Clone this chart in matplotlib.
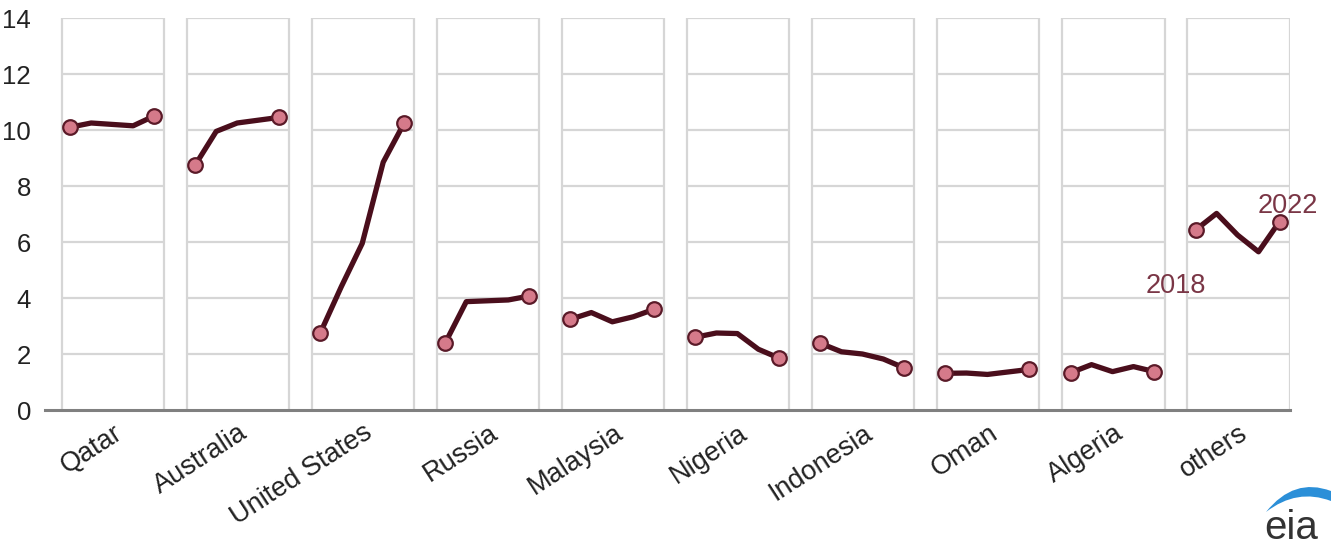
import matplotlib

matplotlib.use("Agg")
import matplotlib.pyplot as plt
from matplotlib.path import Path
from matplotlib.patches import PathPatch

plt.rcParams["font.family"] = ["Liberation Sans", "DejaVu Sans"]

# LNG exports by country, 2018-2022 (billion cubic feet per day)
countries = ["Qatar", "Australia", "United States", "Russia", "Malaysia",
             "Nigeria", "Indonesia", "Oman", "Algeria", "others"]
years = [2018, 2019, 2020, 2021, 2022]
qatar = [10.1, 10.25, 10.2, 10.15, 10.5]
australia = [8.75, 9.95, 10.25, 10.35, 10.45]
united_states = [2.75, 4.4, 5.95, 8.85, 10.25]
russia = [2.4, 3.87, 3.9, 3.93, 4.07]
malaysia = [3.24, 3.48, 3.15, 3.33, 3.6]
nigeria = [2.6, 2.75, 2.73, 2.17, 1.85]
indonesia = [2.38, 2.08, 2.0, 1.82, 1.5]
oman = [1.31, 1.32, 1.27, 1.36, 1.45]
algeria = [1.33, 1.62, 1.37, 1.55, 1.37]
others = [6.43, 7.02, 6.25, 5.65, 6.73]
series = [qatar, australia, united_states, russia, malaysia,
          nigeria, indonesia, oman, algeria, others]
y_ticks = [0, 2, 4, 6, 8, 10, 12, 14]

LINE = "#4a0e1c"
FILL = "#d57a8a"
EDGE = "#5a1a28"
GRID = "#d6d6d6"
LABEL = "#7a3646"

W, H = 1331, 544
fig = plt.figure(figsize=(W / 100, H / 100), dpi=100)
ax = fig.add_axes([45 / W, 1 - 410 / H, (1290 - 45) / W, (410 - 18) / H])

period = 5.96          # x distance between panels, in year steps
pad_l, pad_r = 0.4, 0.48

for i, vals in enumerate(series):
    x0 = i * period
    xs = [x0 + j for j in range(len(years))]
    left, right = x0 - pad_l, x0 + len(years) - 1 + pad_r
    # panel frame and horizontal gridlines
    ax.vlines([left, right], 0, 14, color=GRID, lw=1.6, zorder=1)
    ax.hlines(y_ticks[1:], left, right, color=GRID, lw=1.6, zorder=1)
    ax.plot(xs, vals, color=LINE, lw=3.8, solid_joinstyle="round",
            solid_capstyle="round", zorder=3)
    ax.plot([xs[0], xs[-1]], [vals[0], vals[-1]], "o", ms=10.5,
            mfc=FILL, mec=EDGE, mew=1.6, zorder=4)

last_x = (len(series) - 1) * period
ax.annotate(str(years[0]), (last_x, others[0]), xytext=(-14, -40),
            textcoords="offset points", ha="center", va="center",
            fontsize=19.5, color=LABEL)
ax.annotate(str(years[-1]), (last_x + len(years) - 1, others[-1]),
            xytext=(6, 11), textcoords="offset points", ha="center",
            va="center", fontsize=19.5, color=LABEL)

ax.set_xlim(-1.2, last_x + 4.5)
ax.set_ylim(0, 14)
for side in ("top", "right", "left"):
    ax.spines[side].set_visible(False)
ax.spines["bottom"].set_color("#808080")
ax.spines["bottom"].set_linewidth(2.2)
ax.set_yticks(y_ticks)
ax.set_yticklabels([str(v) for v in y_ticks], fontsize=18.5, color="#222222")
ax.tick_params(axis="y", length=0, pad=10)
ax.set_xticks([i * period + 2.05 for i in range(len(countries))])
ax.set_xticklabels(countries, rotation=33, ha="right",
                   rotation_mode="anchor", fontsize=19.5, color="#222222")
ax.tick_params(axis="x", length=0, pad=7)

# unit line sitting above the plot, mostly off the top edge
fig.text(48 / W, 1 + 13 / H, "billion cubic feet per day", fontsize=18,
         color="#333333", ha="left", va="baseline")

# eia logo
fig.text(1291 / W, 1 - 539 / H, "eia", fontsize=29, color="#333333",
         ha="center", va="baseline")
pts = [(1266, 512), (1294, 477), (1331, 491), (1331, 501),
       (1297, 488), (1266, 512)]
codes = [Path.MOVETO, Path.CURVE3, Path.CURVE3, Path.LINETO,
         Path.CURVE3, Path.CURVE3]
arc = Path([(x / W, 1 - y / H) for x, y in pts], codes)
fig.patches.append(PathPatch(arc, transform=fig.transFigure,
                             facecolor="#2b8fd8", edgecolor="none"))

fig.savefig("out.png", dpi=100)
